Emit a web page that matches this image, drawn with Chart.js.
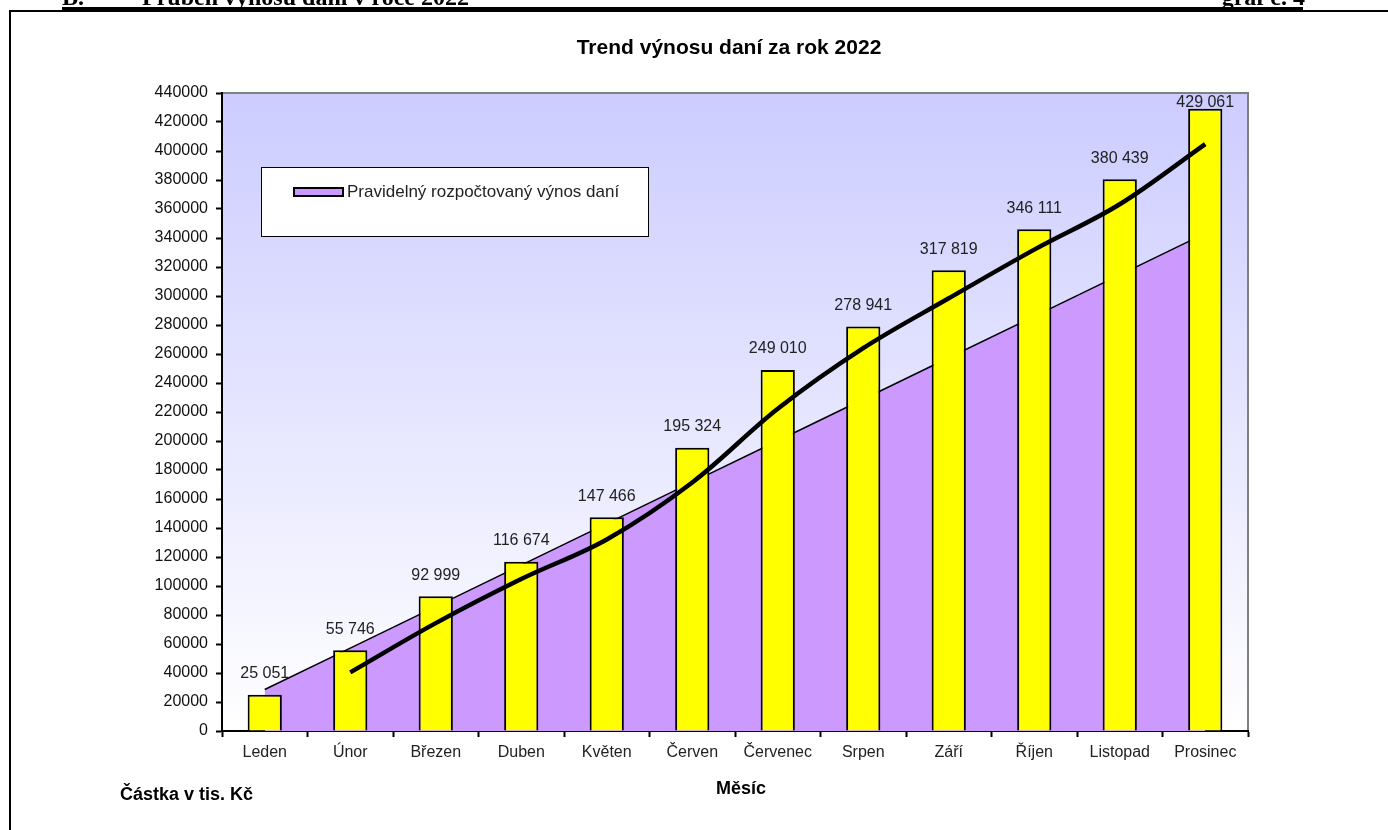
<!DOCTYPE html>
<html>
<head>
<meta charset="utf-8">
<title>Trend výnosu daní za rok 2022</title>
<script src="https://cdn.jsdelivr.net/npm/chart.js@4/dist/chart.umd.min.js"></script>
<style>
  body { margin: 0; background: #ffffff; }
  canvas { display: block; }
</style>
</head>
<body>
<canvas id="myChart" width="1388" height="830"></canvas>
<script>
// Months
const months = ["Leden", "Únor", "Březen", "Duben", "Květen", "Červen", "Červenec", "Srpen", "Září", "Říjen", "Listopad", "Prosinec"];

// Actual tax revenue (bars), thousands CZK
const actualValues = [25051, 55746, 92999, 116674, 147466, 195324, 249010, 278941, 317819, 346111, 380439, 429061];

// Regular budgeted tax revenue (area)
const budgetValues = [28600, 57200, 85800, 114400, 143000, 171600, 200200, 228800, 257400, 286000, 314600, 343200];

// Trend line (black)
const trendValues = [null, 40400, 74400, 104800, 132100, 171400, 222200, 264000, 298400, 332000, 363300, 404800];

// Y axis ticks
const yMin = 0;
const yMax = 440000;
const yStep = 20000;

const fontSans = "'Liberation Sans', Arial, sans-serif";
const fontSerif = "'Liberation Serif', 'Times New Roman', serif";

// Plot area gradient + grey border
const plotBackground = {
  id: "plotBackground",
  beforeDraw(chart) {
    const { ctx, chartArea: a } = chart;
    const g = ctx.createLinearGradient(0, a.top, 0, a.bottom);
    g.addColorStop(0, "#ccccff");
    g.addColorStop(1, "#ffffff");
    ctx.save();
    ctx.fillStyle = g;
    ctx.fillRect(a.left, a.top, a.right - a.left, a.bottom - a.top);
    ctx.strokeStyle = "#808080";
    ctx.lineWidth = 2;
    ctx.beginPath();
    ctx.moveTo(a.left, a.top);
    ctx.lineTo(a.right, a.top);
    ctx.lineTo(a.right, a.bottom);
    ctx.stroke();
    ctx.restore();
  }
};

// Value labels above bars
const barLabels = {
  id: "barLabels",
  afterDatasetsDraw(chart) {
    const { ctx, chartArea: a } = chart;
    const meta = chart.getDatasetMeta(0);
    ctx.save();
    ctx.font = "16px " + fontSans;
    ctx.fillStyle = "#222222";
    ctx.textAlign = "center";
    ctx.textBaseline = "middle";
    meta.data.forEach((bar, i) => {
      const text = actualValues[i].toString().replace(/\B(?=(\d{3})+(?!\d))/g, " ");
      const y = Math.max(bar.y - 21, a.top + 10);
      ctx.fillText(text, bar.x, y);
    });
    ctx.restore();
  }
};

// Title, legend, axis titles, page frame and header
const decorations = {
  id: "decorations",
  afterDraw(chart) {
    const ctx = chart.ctx;
    ctx.save();

    // page header (cut off at top)
    ctx.fillStyle = "#000000";
    ctx.font = "bold 24px " + fontSerif;
    ctx.textBaseline = "alphabetic";
    ctx.textAlign = "left";
    ctx.fillText("B.", 62, 5);
    ctx.fillText("Průběh výnosu daní v roce 2022", 142, 5);
    ctx.textAlign = "right";
    ctx.fillText("graf č. 4", 1305, 5);
    ctx.fillRect(62, 7, 1241, 3);

    // frame
    ctx.fillRect(10, 10, 1378, 2);
    ctx.fillRect(9, 10, 2, 820);

    // title
    ctx.textAlign = "center";
    ctx.textBaseline = "middle";
    ctx.font = "bold 21px " + fontSans;
    ctx.fillText("Trend výnosu daní za rok 2022", 729, 48);

    // axis titles
    ctx.font = "bold 18px " + fontSans;
    ctx.fillText("Měsíc", 741, 789);
    ctx.textAlign = "left";
    ctx.fillText("Částka v tis. Kč", 120, 795);

    // legend
    ctx.fillStyle = "#ffffff";
    ctx.fillRect(261, 167, 388, 70);
    ctx.strokeStyle = "#000000";
    ctx.lineWidth = 1;
    ctx.strokeRect(261.5, 167.5, 387, 69);
    ctx.fillStyle = "#cc99ff";
    ctx.fillRect(294, 188, 49, 8);
    ctx.lineWidth = 2;
    ctx.strokeRect(294, 188, 49, 8);
    ctx.fillStyle = "#222222";
    ctx.font = "17px " + fontSans;
    ctx.textBaseline = "middle";
    ctx.fillText("Pravidelný rozpočtovaný výnos daní", 347, 192);

    ctx.restore();
  }
};

const context = document.getElementById("myChart").getContext("2d");

const myChart = new Chart(context, {
  type: "bar",
  data: {
    labels: months,
    datasets: [
      {
        type: "bar",
        label: "Skutečný výnos daní",
        data: actualValues,
        backgroundColor: "#ffff00",
        borderColor: "#000000",
        borderWidth: 2,
        barPercentage: 0.4,
        categoryPercentage: 1,
        order: 1
      },
      {
        type: "line",
        label: "Pravidelný rozpočtovaný výnos daní",
        data: budgetValues,
        backgroundColor: "#cc99ff",
        borderColor: "#000000",
        borderWidth: 1.5,
        fill: "origin",
        pointRadius: 0,
        tension: 0,
        order: 2
      },
      {
        type: "line",
        label: "Trend",
        data: trendValues,
        borderColor: "#000000",
        borderWidth: 4.5,
        fill: false,
        pointRadius: 0,
        tension: 0.35,
        order: 0
      }
    ]
  },
  options: {
    responsive: false,
    animation: false,
    layout: {
      padding: { left: 0, right: 140, top: 93, bottom: 0 }
    },
    plugins: {
      legend: false,
      title: false,
      tooltip: { enabled: false }
    },
    scales: {
      x: {
        offset: true,
        grid: {
          offset: true,
          drawOnChartArea: false,
          drawTicks: true,
          tickLength: 6,
          tickColor: "#000000",
          tickWidth: 2
        },
        border: { color: "#000000", width: 2 },
        ticks: {
          color: "#222222",
          font: { family: fontSans, size: 16 },
          padding: 6,
          maxRotation: 0,
          autoSkip: false
        },
        afterFit(scale) {
          scale.height = 99;
        }
      },
      y: {
        min: yMin,
        max: yMax,
        grid: {
          drawOnChartArea: false,
          drawTicks: true,
          tickLength: 6,
          tickColor: "#000000",
          tickWidth: 2
        },
        border: { color: "#000000", width: 2 },
        ticks: {
          stepSize: yStep,
          color: "#111111",
          font: { family: fontSans, size: 16 },
          padding: 8,
          callback: (v) => String(v)
        },
        afterFit(scale) {
          scale.width = 222;
        }
      }
    }
  },
  plugins: [plotBackground, barLabels, decorations]
});
</script>
</body>
</html>
